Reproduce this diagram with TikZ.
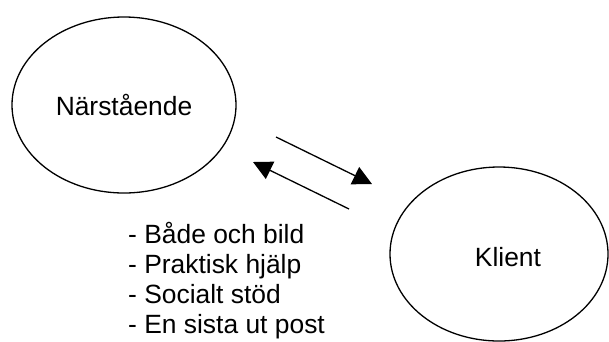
\documentclass[tikz,border=0pt]{standalone}
\usepackage{fontspec}
\setmainfont{Liberation Sans}
\usetikzlibrary{shapes.geometric,arrows.meta}
\tikzset{
  bubble/.style={draw=black,line width=1.3pt,ellipse,inner sep=0pt,
    font=\fontsize{26.4}{30}\selectfont},
  flow/.style={line width=1.3pt,-{Triangle[length=19pt,width=19pt]}},
  listtext/.style={inner sep=0pt,align=left,font=\fontsize{26.4}{30}\selectfont}
}
\begin{document}
\begin{tikzpicture}[x=1pt,y=-1pt]
\useasboundingbox (0,0) rectangle (609,341);
\node[bubble,minimum width=224pt,minimum height=176pt] (nar) at (124,105) {Närstående};
\node[bubble,minimum width=218pt,minimum height=174pt,
  label={[font=\fontsize{26.4}{30}\selectfont,xshift=9pt,yshift=-3pt]center:Klient}] (kli) at (499,254) {};
\coordinate (a1s) at (276,137);
\coordinate (a1e) at (372,184);
\coordinate (a2s) at (349,209);
\coordinate (a2e) at (253,162);
\draw[flow] (a1s) -- (a1e);
\draw[flow] (a2s) -- (a2e);
\node[listtext,anchor=base west] (list) at (128,333) {- Både och bild\\- Praktisk hjälp\\- Socialt stöd\\- En sista ut post};
\end{tikzpicture}
\end{document}
